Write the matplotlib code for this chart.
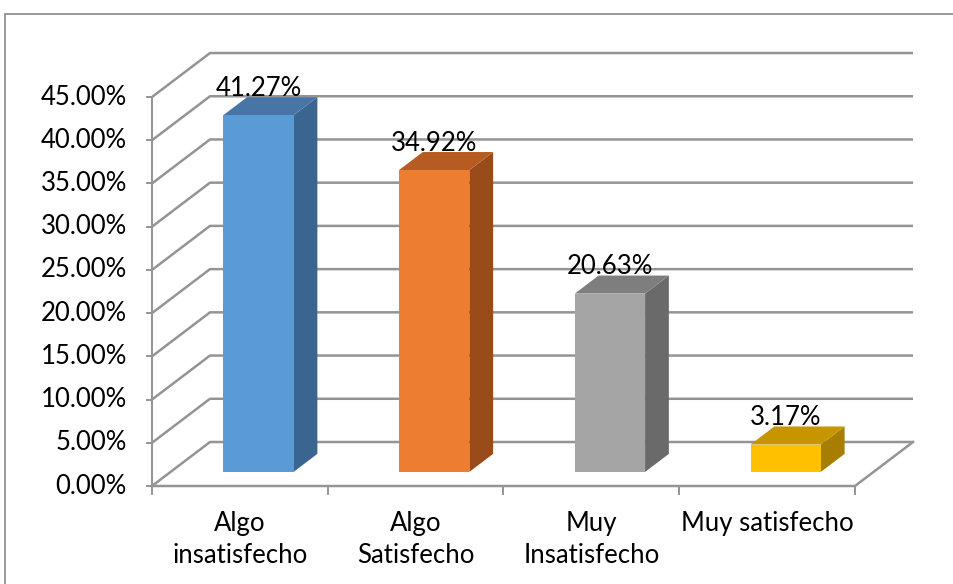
import matplotlib
matplotlib.use("Agg")
import matplotlib.pyplot as plt
from matplotlib.patches import Polygon, Rectangle

categories = ["Algo\ninsatisfecho", "Algo\nSatisfecho", "Muy\nInsatisfecho", "Muy satisfecho"]
values = [41.27, 34.92, 20.63, 3.17]
value_labels = ["41.27%", "34.92%", "20.63%", "3.17%"]
y_ticks = [0, 5, 10, 15, 20, 25, 30, 35, 40, 45]
y_tick_labels = ["%.2f%%" % t for t in y_ticks]

front_colors = ["#5B9BD5", "#ED7D31", "#A5A5A5", "#FFC000"]
top_colors = ["#4776A6", "#B65C22", "#7E7E7E", "#C69500"]
side_colors = ["#3A6590", "#9A4B1C", "#6A6A6A", "#A87E00"]

# layout of the fake 3d box, in pixels of the 954x584 picture
W, H = 954, 584
PX0 = 152        # x pixel of the front left corner
CAT_W = 175.75   # pixels per category
PY0 = 486        # y pixel of 0%
PCT_H = 8.644    # pixels per percent
DEPTH_DX = 58
DEPTH_DY = 44

DX = DEPTH_DX / CAT_W
DY = DEPTH_DY / PCT_H
BAR_W = 0.4
Z0, Z1 = 0.32, 0.73
GRID = "#949494"


def proj(x, y, z):
    return (x + z * DX, y + z * DY)


fig = plt.figure(figsize=(W / 100, H / 100), dpi=100)
ax = fig.add_axes([0, 0, 1, 1])
ax.set_xlim(-PX0 / CAT_W, (W - PX0) / CAT_W)
ax.set_ylim((PY0 - H) / PCT_H, PY0 / PCT_H)
ax.axis("off")

font = ["Lato", "DejaVu Sans"]
fsize = 18.5
n = len(categories)
top = y_ticks[-1]

# outer border of the chart area
fig.patches.append(Rectangle((5 / W, -0.1), 1.2, 1.1 - 14 / H, transform=fig.transFigure,
                             fill=False, edgecolor="#8a8a8a", lw=1.2))

# walls: left side diagonals and back wall lines
for t in y_ticks:
    a = proj(0, t, 0)
    b = proj(0, t, 1)
    c = proj(n, t, 1)
    ax.plot([a[0], b[0], c[0]], [a[1], b[1], c[1]], color=GRID, lw=1.8, zorder=1,
            solid_capstyle="butt")

# floor front and right edges
f0 = proj(0, 0, 0)
f1 = proj(n, 0, 0)
f2 = proj(n, 0, 1)
ax.plot([f0[0], f1[0], f2[0]], [f0[1], f1[1], f2[1]], color=GRID, lw=1.8, zorder=1)

# value axis
ax.plot([0, 0], [0, top], color=GRID, lw=1.4, zorder=2)
tick_len = 5 / CAT_W
for t, lab in zip(y_ticks, y_tick_labels):
    ax.plot([-tick_len, 0], [t, t], color=GRID, lw=1.4, zorder=2)
    ax.text(-25 / CAT_W, t, lab, ha="right", va="center", fontsize=fsize, family=font,
            color="#000000")

# category axis ticks and labels
for i in range(n + 1):
    ax.plot([i, i], [0, -8 / PCT_H], color=GRID, lw=1.4, zorder=2)
for i, cat in enumerate(categories):
    ax.text(i + 0.5, -25 / PCT_H, cat, ha="center", va="top", fontsize=fsize, family=font,
            linespacing=1.35)

# bars
for i, v in enumerate(values):
    x0 = i + 0.5 - BAR_W / 2
    x1 = i + 0.5 + BAR_W / 2
    front = [proj(x0, 0, Z0), proj(x1, 0, Z0), proj(x1, v, Z0), proj(x0, v, Z0)]
    topf = [proj(x0, v, Z0), proj(x1, v, Z0), proj(x1, v, Z1), proj(x0, v, Z1)]
    side = [proj(x1, 0, Z0), proj(x1, 0, Z1), proj(x1, v, Z1), proj(x1, v, Z0)]
    ax.add_patch(Polygon(side, closed=True, facecolor=side_colors[i], edgecolor="none", zorder=3))
    ax.add_patch(Polygon(topf, closed=True, facecolor=top_colors[i], edgecolor="none", zorder=3))
    ax.add_patch(Polygon(front, closed=True, facecolor=front_colors[i], edgecolor="none", zorder=4))
    lx, ly = proj(i + 0.5, v, Z1)
    ax.text(i + 0.5 + Z0 * DX, ly + 0.15, value_labels[i], ha="center", va="baseline",
            fontsize=fsize, family=font, zorder=5)

fig.savefig("out.png", dpi=100)
